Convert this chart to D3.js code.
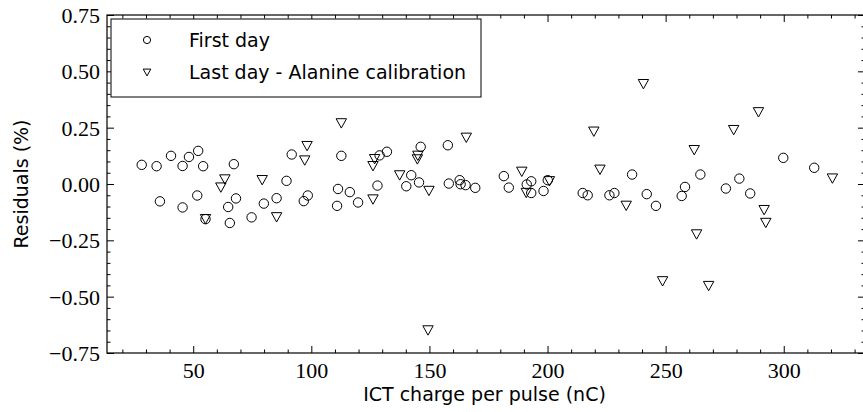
<!DOCTYPE html>
<html>
<head>
<meta charset="utf-8">
<script src="https://cdn.jsdelivr.net/npm/d3@7"></script>
<style>
  body { margin: 0; background: #fff; }
  svg { display: block; }
  .tick text { font-family: "Liberation Serif", serif; font-size: 22px; fill: #000; }
  .domain { display: none; }
  .tick line { stroke: #000; stroke-width: 1; }
</style>
</head>
<body>
<div id="chart"></div>
<script>
const width = 863, height = 412;
const margin = {top: 15, right: -2, bottom: 59, left: 107};

// First day residuals (circles)
const first_x = [28.2, 34.5, 40.6, 48.2, 52.1, 45.5, 54.2, 67.2, 35.9, 45.5, 51.7, 64.8, 68.1, 65.5, 55.2,
  91.7, 112.7, 89.5, 79.9, 85.3, 96.8, 98.5, 74.7, 111.3, 116.3, 110.9, 119.8,
  132.0, 128.9, 146.3, 157.8, 142.3, 140.2, 145.6, 128.0, 158.2, 162.8, 163.2, 165.3, 169.4,
  181.5, 183.6, 191.2, 193.1, 193.1, 198.3, 200.1, 214.9, 217.0,
  226.2, 228.3, 235.8, 242.0, 245.9, 256.8, 258.2, 264.7,
  299.8, 312.9, 281.2, 275.5, 285.8];
const first_y = [0.085, 0.079, 0.125, 0.120, 0.147, 0.080, 0.079, 0.088, -0.077, -0.104, -0.051, -0.102, -0.064, -0.173, -0.156,
  0.131, 0.125, 0.014, -0.087, -0.063, -0.076, -0.051, -0.148, -0.022, -0.036, -0.097, -0.082,
  0.143, 0.127, 0.165, 0.172, 0.039, -0.010, 0.007, -0.007, 0.002, 0.017, -0.001, -0.005, -0.017,
  0.035, -0.016, -0.002, 0.012, -0.040, -0.031, 0.017, -0.040, -0.050,
  -0.050, -0.040, 0.042, -0.045, -0.097, -0.053, -0.013, 0.042,
  0.116, 0.072, 0.024, -0.020, -0.042];

// Last day - Alanine calibration residuals (triangles)
const last_x = [63.4, 61.7, 55.2, 112.7, 98.2, 97.2, 79.2, 85.3, 165.6, 126.8, 126.1, 145.1, 144.9, 137.4, 149.8, 126.1, 149.4,
  189.1, 191.0, 200.8, 219.6, 222.2, 240.6, 233.3, 262.1, 263.1, 248.7, 268.2,
  289.3, 278.8, 320.6, 291.7, 292.4];
const last_y = [0.020, -0.016, -0.156, 0.269, 0.168, 0.104, 0.017, -0.148, 0.205, 0.110, 0.079, 0.125, 0.109, 0.038, -0.031, -0.069, -0.650,
  0.054, -0.040, 0.012, 0.232, 0.063, 0.443, -0.097, 0.150, -0.224, -0.432, -0.453,
  0.318, 0.239, 0.024, -0.116, -0.173];

const x_ticks = [50, 100, 150, 200, 250, 300];
const y_ticks = [-0.75, -0.50, -0.25, 0.00, 0.25, 0.50, 0.75];
const series_names = ['First day', 'Last day - Alanine calibration'];

const first_day = first_x.map((d, i) => ({x: d, y: first_y[i]}));
const last_day = last_x.map((d, i) => ({x: d, y: last_y[i]}));

const svg = d3.select('#chart').append('svg')
  .attr('width', width).attr('height', height);

const x = d3.scaleLinear().domain([13.5, 334.4]).range([margin.left, width - margin.right]);
const y = d3.scaleLinear().domain([-0.75, 0.75]).range([height - margin.bottom, margin.top]);

const x_minor = d3.range(20, 331, 10).filter(v => v % 50 !== 0);
const y_minor = d3.range(-70, 71, 5).map(v => v / 100).filter(v => Math.abs(Math.round(v * 100) % 25) !== 0);

const major_len = 7, minor_len = 3.5;
const fmt = d => d3.format('.2f')(d).replace('-', '\u2212');

// bottom axis
svg.append('g').attr('class', 'x_bottom').attr('transform', `translate(0,${y.range()[0]})`)
  .call(d3.axisBottom(x).tickValues(x_ticks).tickSize(-major_len).tickPadding(9).tickFormat(d3.format('d')));
svg.append('g').attr('transform', `translate(0,${y.range()[0]})`)
  .call(d3.axisBottom(x).tickValues(x_minor).tickSize(-minor_len).tickFormat(''));
// top axis
svg.append('g').attr('transform', `translate(0,${y.range()[1]})`)
  .call(d3.axisTop(x).tickValues(x_ticks).tickSize(-major_len).tickFormat(''));
svg.append('g').attr('transform', `translate(0,${y.range()[1]})`)
  .call(d3.axisTop(x).tickValues(x_minor).tickSize(-minor_len).tickFormat(''));
// left axis
svg.append('g').attr('class', 'y_left').attr('transform', `translate(${x.range()[0]},0)`)
  .call(d3.axisLeft(y).tickValues(y_ticks).tickSize(-major_len).tickPadding(7).tickFormat(fmt));
svg.append('g').attr('transform', `translate(${x.range()[0]},0)`)
  .call(d3.axisLeft(y).tickValues(y_minor).tickSize(-minor_len).tickFormat(''));
// right axis
svg.append('g').attr('transform', `translate(${x.range()[1]},0)`)
  .call(d3.axisRight(y).tickValues(y_ticks).tickSize(-major_len).tickFormat(''));
svg.append('g').attr('transform', `translate(${x.range()[1]},0)`)
  .call(d3.axisRight(y).tickValues(y_minor).tickSize(-minor_len).tickFormat(''));

svg.selectAll('.x_bottom .tick text').attr('dy', '0.72em');
svg.selectAll('.y_left .tick text').attr('dy', '0.34em');

// frame
svg.append('rect')
  .attr('x', x.range()[0]).attr('y', y.range()[1])
  .attr('width', x.range()[1] - x.range()[0]).attr('height', y.range()[0] - y.range()[1])
  .attr('fill', 'none').attr('stroke', '#000').attr('stroke-width', 1.2);

function triangle(cx, cy, s) {
  return `M${cx - s},${cy - s * 0.9}L${cx + s},${cy - s * 0.9}L${cx},${cy + s * 0.9}Z`;
}

const marks = svg.append('g');
marks.selectAll('path.last').data(last_day).join('path')
  .attr('class', 'last')
  .attr('d', d => triangle(x(d.x), y(d.y), 5.2))
  .attr('fill', 'none').attr('stroke', '#000').attr('stroke-width', 1);
marks.selectAll('circle.first').data(first_day).join('circle')
  .attr('class', 'first')
  .attr('cx', d => x(d.x)).attr('cy', d => y(d.y)).attr('r', 4.7)
  .attr('fill', 'none').attr('stroke', '#000').attr('stroke-width', 1);

// legend
const legend = svg.append('g');
legend.append('rect')
  .attr('x', 111).attr('y', 19).attr('width', 370).attr('height', 78)
  .attr('fill', '#fff').attr('stroke', '#000').attr('stroke-width', 1);
legend.append('circle').attr('cx', 147).attr('cy', 40).attr('r', 3.6)
  .attr('fill', 'none').attr('stroke', '#000');
legend.append('path').attr('d', triangle(147, 72.5, 3.8))
  .attr('fill', 'none').attr('stroke', '#000');
legend.selectAll('text').data(series_names).join('text')
  .attr('x', 189).attr('y', (d, i) => 40 + i * 32.5)
  .attr('dy', '0.36em')
  .style('font-family', '"DejaVu Sans", sans-serif').style('font-size', '19px')
  .text(d => d);

// axis labels
svg.append('text')
  .attr('x', (x.range()[0] + 862) / 2).attr('y', 401)
  .attr('text-anchor', 'middle')
  .style('font-family', '"DejaVu Sans", sans-serif').style('font-size', '19px')
  .text('ICT charge per pulse (nC)');
svg.append('text')
  .attr('transform', `translate(28,${y(0)}) rotate(-90)`)
  .attr('text-anchor', 'middle')
  .style('font-family', '"DejaVu Sans", sans-serif').style('font-size', '19px')
  .text('Residuals (%)');
</script>
</body>
</html>
